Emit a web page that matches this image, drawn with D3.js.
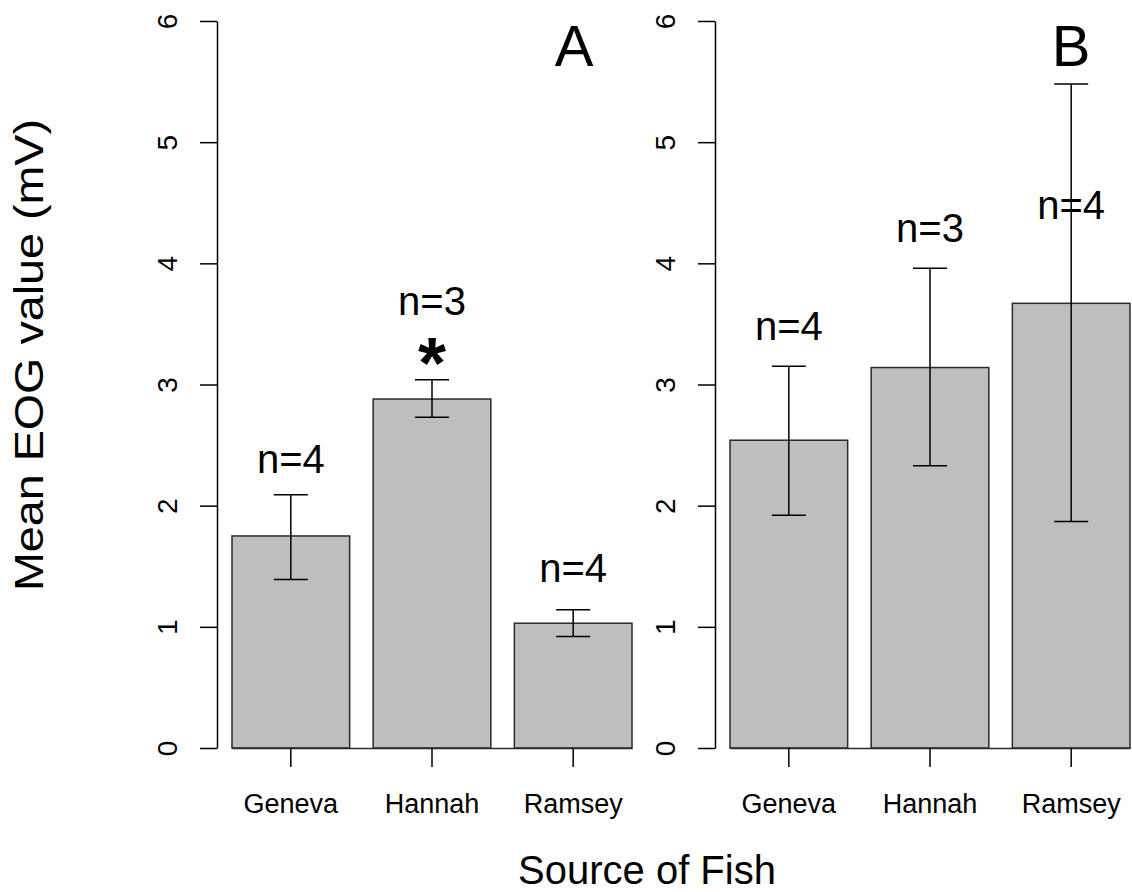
<!DOCTYPE html>
<html>
<head>
<meta charset="utf-8">
<script src="https://cdn.jsdelivr.net/npm/d3@7"></script>
<style>
  body { margin: 0; background: #fff; }
  text { font-family: "Liberation Sans", Arial, sans-serif; fill: #000; }
</style>
</head>
<body>
<div id="chart"></div>
<script>
var categories = ["Geneva", "Hannah", "Ramsey"];

// panel A
var meanA = [1.75, 2.88, 1.03];
var lowA = [1.39, 2.73, 0.92];
var highA = [2.09, 3.04, 1.14];
var nA = ["n=4", "n=3", "n=4"];
var labelYA = [2.27, 3.57, 1.37];

// panel B
var meanB = [2.54, 3.14, 3.67];
var lowB = [1.92, 2.33, 1.87];
var highB = [3.15, 3.96, 5.48];
var nB = ["n=4", "n=3", "n=4"];
var labelYB = [3.37, 4.18, 4.37];

var yTicks = [0, 1, 2, 3, 4, 5, 6];

function init() {
    var w = 1132;
    var h = 892;

    var svg = d3.select("#chart")
                .append("svg")
                .attr("width", w)
                .attr("height", h);

    var y = d3.scaleLinear()
              .domain([0, 6])
              .range([748, 21]);

    function panel(x0, x1, mean, low, high, nLab, labY, letter, letterX, star) {
        var x = d3.scaleBand()
                  .domain(categories)
                  .range([x0, x1])
                  .paddingInner(0.2 / 1.2)
                  .paddingOuter(0);

        var axisX = x0 - 15;

        // y axis
        var ya = svg.append("g")
            .attr("transform", "translate(" + axisX + ",0)")
            .call(d3.axisLeft(y).tickValues(yTicks).tickFormat(d3.format("d"))
                    .tickSize(17).tickSizeOuter(0));
        ya.attr("font-size", null);
        ya.select(".domain").attr("stroke", "#000").attr("stroke-width", 1.5);
        ya.selectAll(".tick line").attr("stroke", "#000").attr("stroke-width", 1.5);
        ya.selectAll(".tick text")
            .attr("x", null)
            .attr("dy", null)
            .attr("text-anchor", "middle")
            .attr("transform", "translate(-40,0) rotate(-90)")
            .style("font-size", "28px")
            .style("font-family", "'Liberation Sans', Arial, sans-serif")
            .attr("fill", "#000");

        // bars
        svg.selectAll(null)
            .data(categories)
            .enter()
            .append("rect")
            .attr("x", function(d) { return x(d); })
            .attr("y", function(d, i) { return y(mean[i]); })
            .attr("width", x.bandwidth())
            .attr("height", function(d, i) { return y(0) - y(mean[i]); })
            .attr("fill", "#bdbfbe")
            .attr("stroke", "#2a2a2a")
            .attr("stroke-width", 1.5);

        // x axis
        var xa = svg.append("g")
            .attr("transform", "translate(0," + y(0) + ")")
            .call(d3.axisBottom(x).tickSize(19).tickSizeOuter(0));
        xa.attr("font-size", null);
        xa.select(".domain").attr("stroke", "#2a2a2a").attr("stroke-width", 1.5);
        xa.selectAll(".tick line").attr("stroke", "#000").attr("stroke-width", 1.5);
        xa.selectAll(".tick text")
            .attr("y", 65)
            .attr("dy", null)
            .style("font-size", "27px")
            .style("font-family", "'Liberation Sans', Arial, sans-serif")
            .attr("fill", "#000");

        // error bars
        var cx = function(d) { return x(d) + x.bandwidth() / 2; };
        var eb = svg.selectAll(null)
            .data(categories)
            .enter()
            .append("g")
            .attr("stroke", "#000")
            .attr("stroke-width", 1.5);
        eb.append("line")
            .attr("x1", cx).attr("x2", cx)
            .attr("y1", function(d, i) { return y(low[i]); })
            .attr("y2", function(d, i) { return y(high[i]); });
        eb.append("line")
            .attr("x1", function(d) { return cx(d) - 17; })
            .attr("x2", function(d) { return cx(d) + 17; })
            .attr("y1", function(d, i) { return y(high[i]); })
            .attr("y2", function(d, i) { return y(high[i]); });
        eb.append("line")
            .attr("x1", function(d) { return cx(d) - 17; })
            .attr("x2", function(d) { return cx(d) + 17; })
            .attr("y1", function(d, i) { return y(low[i]); })
            .attr("y2", function(d, i) { return y(low[i]); });

        // n labels
        svg.selectAll(null)
            .data(categories)
            .enter()
            .append("text")
            .attr("x", cx)
            .attr("y", function(d, i) { return y(labY[i]); })
            .attr("text-anchor", "middle")
            .style("font-size", "40px")
            .text(function(d, i) { return nLab[i]; });

        if (star) {
            svg.append("text")
                .attr("x", cx(star))
                .attr("y", 388)
                .attr("text-anchor", "middle")
                .style("font-size", "72px")
                .style("font-weight", "bold")
                .text("*");
        }

        svg.append("text")
            .attr("x", letterX)
            .attr("y", 66)
            .attr("text-anchor", "middle")
            .style("font-size", "58px")
            .text(letter);
    }

    panel(232, 632, meanA, lowA, highA, nA, labelYA, "A", 574, "Hannah");
    panel(730, 1130, meanB, lowB, highB, nB, labelYB, "B", 1071, null);

    svg.append("text")
        .attr("transform", "translate(43,355) rotate(-90)")
        .attr("text-anchor", "middle")
        .attr("textLength", 472)
        .attr("lengthAdjust", "spacingAndGlyphs")
        .style("font-size", "41px")
        .text("Mean EOG value (mV)");

    svg.append("text")
        .attr("x", 647)
        .attr("y", 884)
        .attr("text-anchor", "middle")
        .style("font-size", "40px")
        .text("Source of Fish");
}

window.onload = init;
</script>
</body>
</html>
